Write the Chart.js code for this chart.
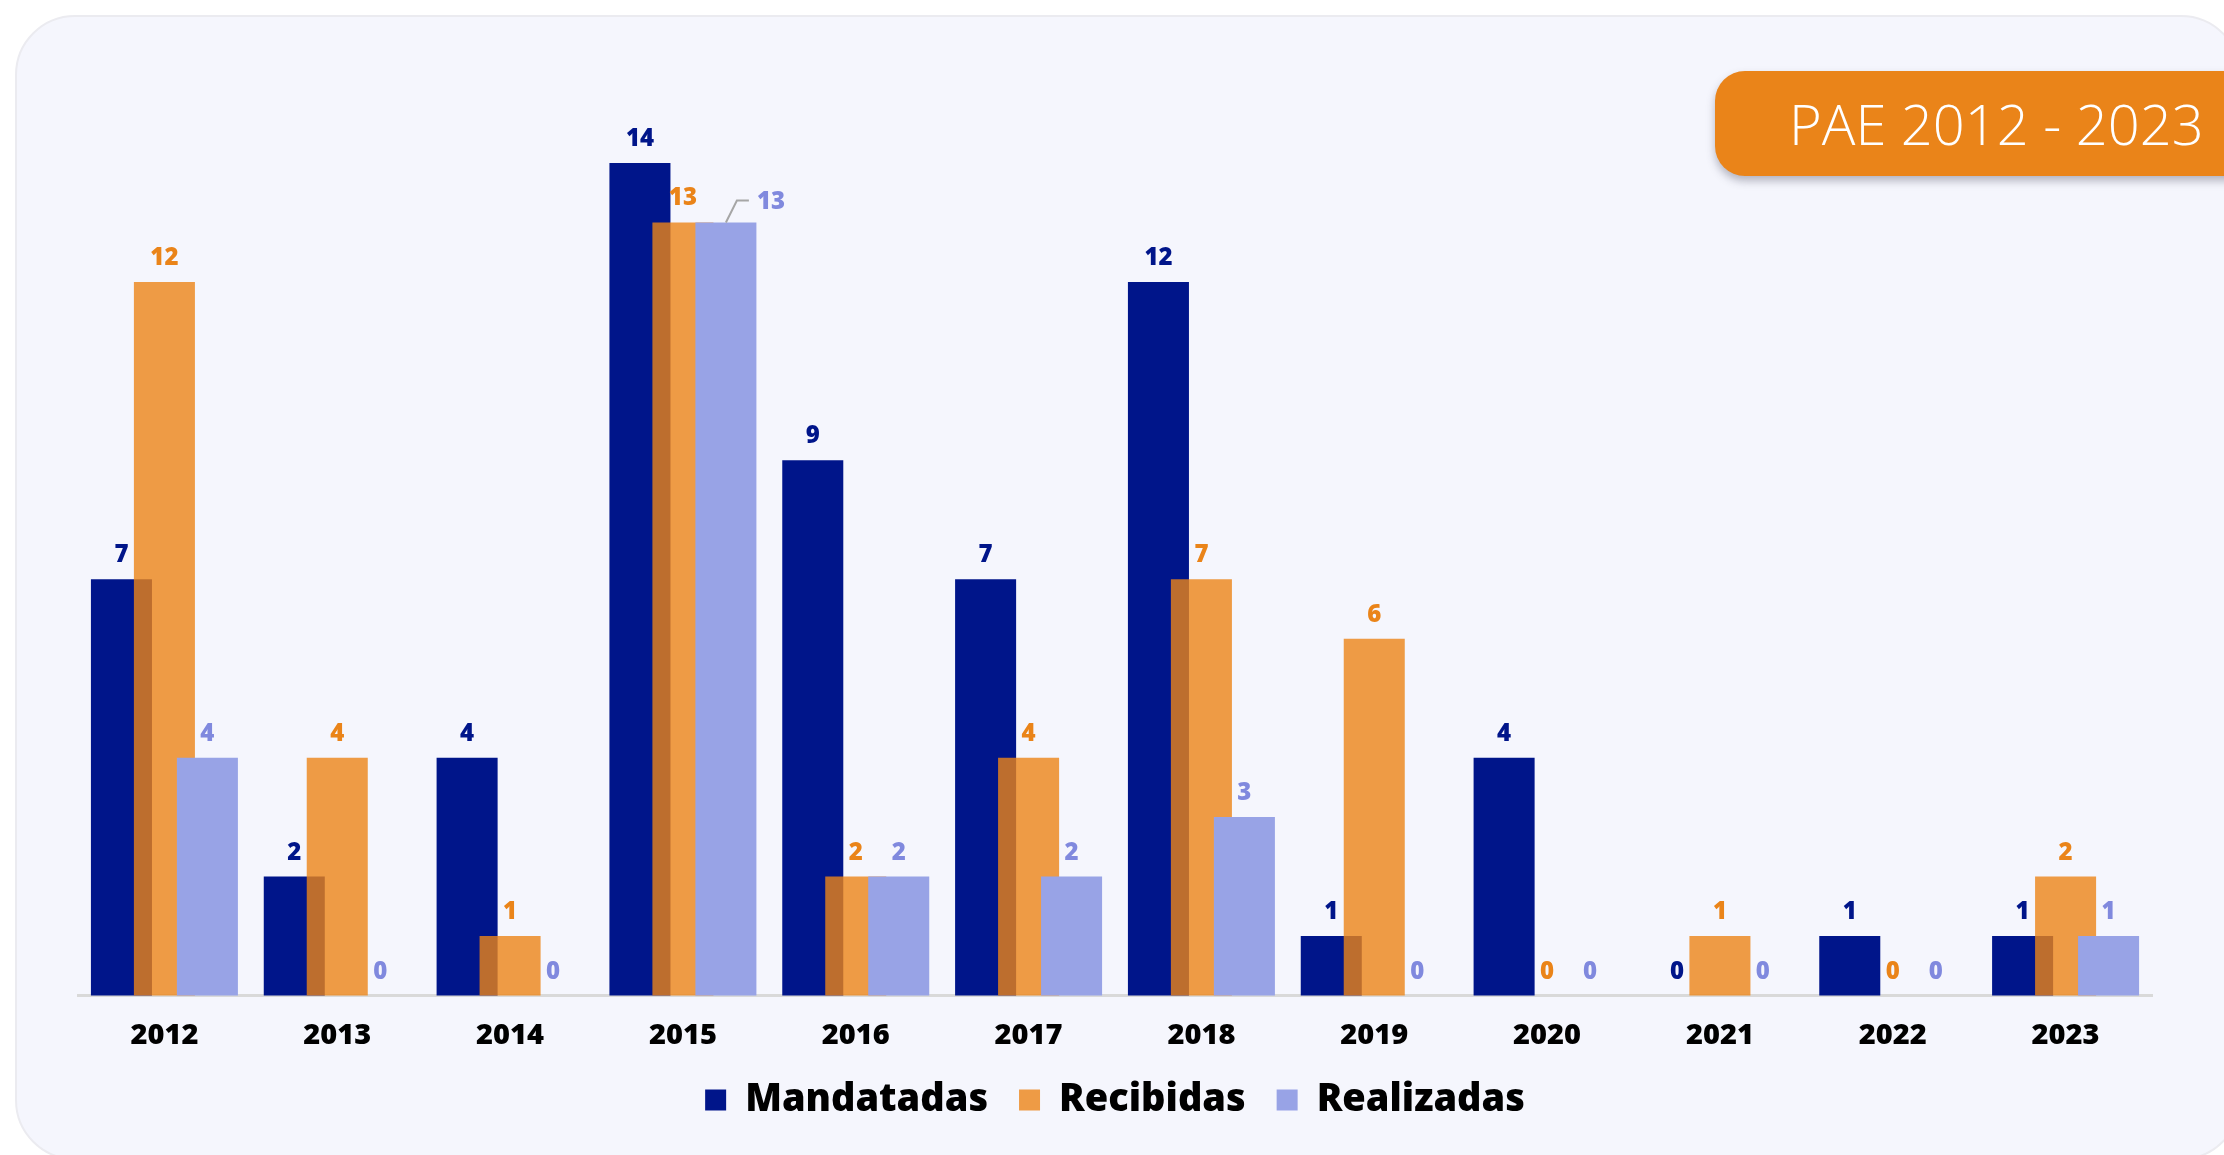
<!DOCTYPE html>
<html lang="es">
<head>
<meta charset="utf-8">
<title>PAE 2012 - 2023</title>
<script src="https://cdn.jsdelivr.net/npm/chart.js@4.4.1/dist/chart.umd.min.js"></script>
<style>
  html, body { margin: 0; padding: 0; background: #ffffff; overflow: hidden; }
  body { width: 2224px; height: 1155px; position: relative; }
  .card {
    position: absolute; left: 15px; top: 15px; width: 2226px; height: 1145px;
    box-sizing: border-box; background: #f5f6fd;
    border: 2px solid #ebebf0; border-radius: 60px;
  }
  .badge {
    position: absolute; left: 1715px; top: 71px; width: 560px; height: 105px;
    box-sizing: border-box; padding-left: 74px;
    background: #ea8419; border-radius: 30px;
    box-shadow: 0 5px 8px rgba(60, 60, 80, 0.35);
    color: #ffffff; font-family: "Open Sans", sans-serif; font-weight: 300;
    font-size: 56px; line-height: 105px; white-space: nowrap;
  }
  .chart-wrap { position: absolute; left: 0; top: 0; width: 2224px; height: 1129px; }
</style>
</head>
<body>
<div class="card"></div>
<div class="chart-wrap"><canvas id="paeChart" aria-label="PAE 2012 - 2023"></canvas></div>
<div class="badge">PAE 2012 - 2023</div>

<script>
// Data
const years = ['2012', '2013', '2014', '2015', '2016', '2017', '2018', '2019', '2020', '2021', '2022', '2023'];
const mandatadas = [7, 2, 4, 14, 9, 7, 12, 1, 4, 0, 1, 1];
const recibidas = [12, 4, 1, 13, 2, 4, 7, 6, 0, 1, 0, 2];
const realizadas = [4, 0, 0, 13, 2, 2, 3, 0, 0, 0, 0, 1];
const seriesNames = ['Mandatadas', 'Recibidas', 'Realizadas'];

const FONT = '"Open Sans", sans-serif';
const barColours = ['#00158a', 'rgba(236, 132, 23, 0.8)', '#98a3e6'];
const labelColours = ['#00158a', '#ea8419', '#8089de'];

// labels that get pushed aside with a small leader line (dataset index, category index)
const calloutLabels = [{ dataset: 2, index: 3 }];

// Chart.js draws dataset 0 on top; here each later series must sit over the previous one
const drawInOrder = {
  id: 'drawInOrder',
  beforeDatasetsDraw(chart) {
    for (let i = 0; i < chart.data.datasets.length; i++) {
      if (chart.isDatasetVisible(i)) chart.getDatasetMeta(i).controller.draw();
    }
    return false;
  }
};

const valueLabels = {
  id: 'valueLabels',
  afterDraw(chart) {
    const ctx = chart.ctx;
    ctx.save();
    ctx.font = '800 24px ' + FONT;
    ctx.textBaseline = 'alphabetic';
    chart.data.datasets.forEach((ds, di) => {
      const meta = chart.getDatasetMeta(di);
      meta.data.forEach((bar, i) => {
        const text = String(ds.data[i]);
        ctx.fillStyle = labelColours[di];
        const callout = calloutLabels.some(c => c.dataset === di && c.index === i);
        if (callout) {
          ctx.strokeStyle = '#a6a6a6';
          ctx.lineWidth = 2;
          ctx.beginPath();
          ctx.moveTo(bar.x, bar.y);
          ctx.lineTo(bar.x + 11, bar.y - 22);
          ctx.lineTo(bar.x + 23, bar.y - 22);
          ctx.stroke();
          ctx.textAlign = 'left';
          ctx.fillText(text, bar.x + 31, bar.y - 13);
        } else {
          ctx.textAlign = 'center';
          ctx.fillText(text, bar.x, bar.y - 17);
        }
      });
    });
    ctx.restore();
  }
};

const allSeries = [mandatadas, recibidas, realizadas];

new Chart(document.getElementById('paeChart'), {
  type: 'bar',
  data: {
    labels: years,
    datasets: allSeries.map((values, i) => ({
      label: seriesNames[i],
      data: values,
      backgroundColor: barColours[i],
      borderWidth: 0,
      categoryPercentage: 0.746,
      barPercentage: 1.42
    }))
  },
  options: {
    responsive: true,
    maintainAspectRatio: false,
    animation: false,
    layout: {
      padding: { top: 163, left: 78, right: 72, bottom: 0 }
    },
    scales: {
      x: {
        grid: { display: false, drawTicks: false },
        border: { display: true, color: '#d9d9d9', width: 3 },
        ticks: {
          color: '#000000',
          padding: 25.5,
          font: { family: FONT, weight: '800', size: 29, lineHeight: 1 }
        },
        // drop the padding Chart.js adds under the year labels
        afterFit(axis) { axis.height = 54.5; }
      },
      y: { display: false, min: 0, max: 14 }
    },
    plugins: {
      legend: {
        position: 'bottom',
        labels: {
          boxWidth: 21,
          boxHeight: 21,
          padding: 31,
          color: '#000000',
          font: { family: FONT, weight: '800', size: 38 }
        }
      },
      title: { display: false },
      tooltip: { enabled: false }
    }
  },
  plugins: [drawInOrder, valueLabels]
});
</script>
</body>
</html>
